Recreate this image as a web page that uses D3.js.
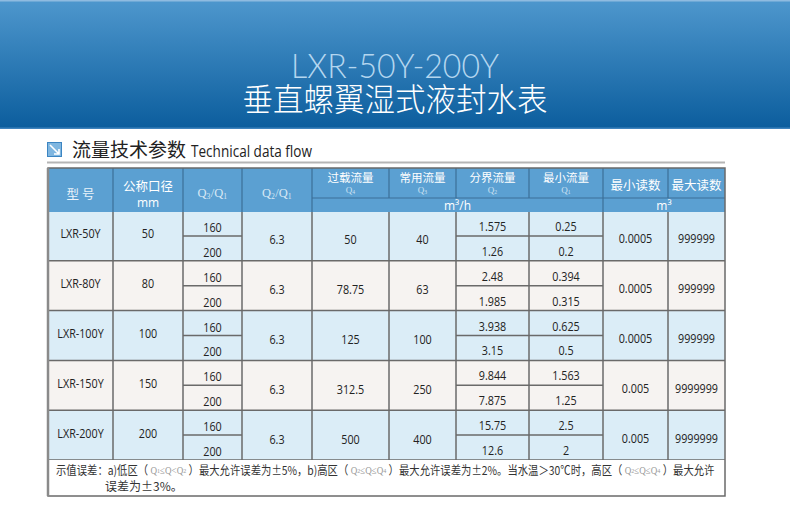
<!DOCTYPE html>
<html>
<head>
<meta charset="utf-8">
<script src="https://cdn.jsdelivr.net/npm/d3@7"></script>
<style>
  body { margin: 0; background: #fff; }
  svg { display: block; }
</style>
</head>
<body>
<script>
// table values
const models    = ["LXR-50Y", "LXR-80Y", "LXR-100Y", "LXR-150Y", "LXR-200Y"];
const diameters = ["50", "80", "100", "150", "200"];
const ratioQ3Q1 = ["160", "200"];
const ratioQ2Q1 = ["6.3", "6.3", "6.3", "6.3", "6.3"];
const flowQ4    = ["50", "78.75", "125", "312.5", "500"];
const flowQ3    = ["40", "63", "100", "250", "400"];
const flowQ2    = [["1.575", "1.26"], ["2.48", "1.985"], ["3.938", "3.15"], ["9.844", "7.875"], ["15.75", "12.6"]];
const flowQ1    = [["0.25", "0.2"], ["0.394", "0.315"], ["0.625", "0.5"], ["1.563", "1.25"], ["2.5", "2"]];
const minRead   = ["0.0005", "0.0005", "0.0005", "0.005", "0.005"];
const maxRead   = ["999999", "999999", "999999", "9999999", "9999999"];

const W = 790, H = 511;
const colEdges = [48, 113, 183, 242, 312, 389, 456, 529, 603, 668, 725];
const headTop = 168, headMid = 198, headBot = 212, bodyBot = 460, noteBot = 496;

const cjk = "'Noto Sans CJK SC', sans-serif";
const lat = "'Open Sans', 'Noto Sans', sans-serif";
const qFont = "'Liberation Serif', 'DejaVu Serif', serif";

const svg = d3.select("body").append("svg").attr("width", W).attr("height", H);
const defs = svg.append("defs");
const grad = defs.append("linearGradient").attr("id", "band").attr("x1", 0).attr("y1", 0).attr("x2", 0).attr("y2", 1);
grad.append("stop").attr("offset", "0%").attr("stop-color", "#4e97cd");
grad.append("stop").attr("offset", "100%").attr("stop-color", "#0b5d9d");

// title band
svg.append("rect").attr("x", 0).attr("y", 0).attr("width", W).attr("height", 129).attr("fill", "url(#band)");
svg.append("rect").attr("x", 0).attr("y", 0).attr("width", W).attr("height", 1.5).attr("fill", "#8fbbe0");
svg.append("rect").attr("x", 0).attr("y", 127.5).attr("width", W).attr("height", 1.5).attr("fill", "#3f83bd");

svg.append("text").attr("x", 395).attr("y", 78).attr("text-anchor", "middle")
  .attr("font-family", "Lato, " + lat).attr("font-weight", 300).attr("font-size", 33)
  .attr("fill", "#b4d6ef").attr("textLength", 208).attr("lengthAdjust", "spacingAndGlyphs")
  .text("LXR-50Y-200Y");
svg.append("text").attr("x", 395).attr("y", 111).attr("text-anchor", "middle")
  .attr("font-family", cjk).attr("font-weight", 300).attr("font-size", 32).attr("fill", "#ffffff")
  .attr("textLength", 305).attr("lengthAdjust", "spacingAndGlyphs")
  .text("垂直螺翼湿式液封水表");

// section heading
svg.append("rect").attr("x", 47.5).attr("y", 142.5).attr("width", 14).attr("height", 14)
  .attr("fill", "#7fb6e0").attr("stroke", "#3c85c2").attr("stroke-width", 1);
svg.append("path").attr("d", "M50,145 L59,154 M59,149 L59,154 L54,154")
  .attr("stroke", "#fff").attr("stroke-width", 1.6).attr("fill", "none");
svg.append("text").attr("x", 72).attr("y", 157).attr("font-family", cjk).attr("font-size", 19)
  .attr("fill", "#222").text("流量技术参数");
svg.append("text").attr("x", 191).attr("y", 157).attr("font-family", lat).attr("font-size", 16)
  .attr("fill", "#222").attr("textLength", 121).attr("lengthAdjust", "spacingAndGlyphs")
  .text("Technical data flow");
svg.append("rect").attr("x", 47).attr("y", 161.5).attr("width", 678).attr("height", 2).attr("fill", "#b5b5b5");

// scales
const y = d3.scaleBand().domain(models).range([headBot - 1, bodyBot]);
const cx = i => (colEdges[i] + colEdges[i + 1]) / 2;
const cxSpan = (a, b) => (colEdges[a] + colEdges[b]) / 2;

// header
const head = svg.append("g");
head.append("rect").attr("x", colEdges[0]).attr("y", headTop)
  .attr("width", colEdges[10] - colEdges[0]).attr("height", headBot - headTop).attr("fill", "#5ba0d2");

function hText(x, yy, str, size, fam, fill) {
  return head.append("text").attr("x", x).attr("y", yy).attr("text-anchor", "middle")
    .attr("dominant-baseline", "central").attr("font-family", fam || cjk)
    .attr("font-size", size).attr("fill", fill || "#ffffff").text(str);
}
function qText(g, x, yy, parts, size, fill) {
  const t = g.append("text").attr("x", x).attr("y", yy).attr("text-anchor", "middle")
    .attr("dominant-baseline", "central").attr("font-family", qFont)
    .attr("font-size", size).attr("fill", fill);
  parts.forEach(p => {
    t.append("tspan").attr("dy", 0).text(p[0]);
    if (p[1]) {
      t.append("tspan").attr("font-size", size * 0.62).attr("dy", size * 0.2).text(p[1]);
      t.append("tspan").attr("font-size", size * 0.3).attr("dy", -size * 0.2).text("\u200a");
    }
  });
  return t;
}

hText(cx(0), 193, "型  号", 12.5, cjk, "#eaf3fa");
hText(cx(1), 185.5, "公称口径", 12.5);
hText(cx(1), 202.5, "mm", 12, lat);
qText(head, cx(2), 193, [["Q", "3"], ["/Q", "1"]], 12.5, "#d7e8f5");
qText(head, cx(3), 193, [["Q", "2"], ["/Q", "1"]], 12.5, "#d7e8f5");
const flowHeads = [["过载流量", "4"], ["常用流量", "3"], ["分界流量", "2"], ["最小流量", "1"]];
flowHeads.forEach((h, i) => {
  hText(cx(4 + i), 177, h[0], 11.5);
  qText(head, cx(4 + i), 190, [["Q", h[1]]], 9, "#cfe3f3");
});
hText(cx(8), 184, "最小读数", 12.5);
hText(cx(9), 184, "最大读数", 12.5);
hText(cxSpan(4, 8), 205.5, "m³/h", 12, lat);
hText(cxSpan(8, 10), 205.5, "m³", 12, lat);

const hStroke = "#3c6f98";
[1, 2, 3, 4].forEach(i => head.append("line").attr("x1", colEdges[i]).attr("x2", colEdges[i])
  .attr("y1", headTop).attr("y2", headBot).attr("stroke", hStroke).attr("stroke-width", 1.2));
[5, 6, 7, 8, 9].forEach(i => head.append("line").attr("x1", colEdges[i]).attr("x2", colEdges[i])
  .attr("y1", headTop).attr("y2", headMid).attr("stroke", hStroke).attr("stroke-width", 1.2));
head.append("line").attr("x1", colEdges[8]).attr("x2", colEdges[8]).attr("y1", headMid).attr("y2", headBot)
  .attr("stroke", hStroke).attr("stroke-width", 1.2);
head.append("line").attr("x1", colEdges[4]).attr("x2", colEdges[10]).attr("y1", headMid).attr("y2", headMid)
  .attr("stroke", hStroke).attr("stroke-width", 1.2);

// body rows
const body = svg.append("g");
const rows = body.selectAll("g.row").data(models).enter().append("g").attr("class", "row");
rows.append("rect").attr("x", colEdges[0]).attr("y", d => Math.max(y(d), headBot))
  .attr("width", colEdges[10] - colEdges[0]).attr("height", d => y(d) + y.bandwidth() - Math.max(y(d), headBot))
  .attr("fill", (d, i) => i % 2 === 0 ? "#dbedf7" : "#f6f3f1");

function cell(x, yy, str) {
  const t = body.append("text").attr("x", x).attr("y", yy).attr("text-anchor", "middle")
    .attr("dominant-baseline", "central").attr("font-family", lat).attr("font-size", 12.5)
    .attr("fill", "#222").text(str);
  // the source face is narrower than Open Sans
  const w = t.node().getComputedTextLength();
  t.attr("textLength", w * 0.86).attr("lengthAdjust", "spacingAndGlyphs");
}

const bStroke = "#6a6a6a";
models.forEach((m, i) => {
  const top = y(m), h = y.bandwidth(), mid = top + h / 2;
  const sub = [top + h / 4, top + h * 3 / 4];
  cell(cx(0), mid - 2, m);
  cell(cx(1), mid - 2, diameters[i]);
  ratioQ3Q1.forEach((v, k) => cell(cx(2), sub[k] + 4, v));
  cell(cx(3), mid + 4, ratioQ2Q1[i]);
  cell(cx(4), mid + 4, flowQ4[i]);
  cell(cx(5), mid + 4, flowQ3[i]);
  flowQ2[i].forEach((v, k) => cell(cx(6), sub[k] + 3, v));
  flowQ1[i].forEach((v, k) => cell(cx(7), sub[k] + 3, v));
  cell(cx(8), mid + 3, minRead[i]);
  cell(cx(9), mid + 3, maxRead[i]);
  // split lines
  body.append("line").attr("x1", colEdges[2]).attr("x2", colEdges[3]).attr("y1", mid).attr("y2", mid)
    .attr("stroke", bStroke).attr("stroke-width", 1.5);
  body.append("line").attr("x1", colEdges[6]).attr("x2", colEdges[8]).attr("y1", mid).attr("y2", mid)
    .attr("stroke", bStroke).attr("stroke-width", 1.5);
  // row bottom
  body.append("line").attr("x1", colEdges[0]).attr("x2", colEdges[10]).attr("y1", top + h).attr("y2", top + h)
    .attr("stroke", bStroke).attr("stroke-width", 1.5);
});
colEdges.slice(1, 10).forEach(x => body.append("line").attr("x1", x).attr("x2", x)
  .attr("y1", headBot).attr("y2", bodyBot).attr("stroke", bStroke).attr("stroke-width", 1.5));

// footnote
const note = svg.append("g");
note.append("rect").attr("x", colEdges[0]).attr("y", bodyBot).attr("width", colEdges[10] - colEdges[0])
  .attr("height", noteBot - bodyBot).attr("fill", "#fff");
const l1 = note.append("text").attr("x", 0).attr("y", 470).attr("dominant-baseline", "central")
  .attr("font-family", cjk).attr("font-size", 12).attr("fill", "#333");
function seg(t, str, q, sub) {
  const s = t.append("tspan").text(str);
  if (q) { s.attr("font-family", qFont).attr("fill", "#999").attr("font-size", 10.5); }
  if (sub) { s.attr("font-size", 7); }
  return s;
}
seg(l1, "示值误差：a)低区（ ");
seg(l1, "Q", true); seg(l1, "1", true, true); seg(l1, "≤Q<Q", true); seg(l1, "2", true, true);
seg(l1, " ）最大允许误差为±5%，b)高区（ ");
seg(l1, "Q", true); seg(l1, "2", true, true); seg(l1, "≤Q≤Q", true); seg(l1, "4", true, true);
seg(l1, " ）最大允许误差为±2%。当水温＞30℃时，高区（ ");
seg(l1, "Q", true); seg(l1, "2", true, true); seg(l1, "≤Q≤Q", true); seg(l1, "4", true, true);
seg(l1, " ）最大允许");
const l1w = l1.node().getComputedTextLength();
l1.attr("transform", "translate(56,0) scale(" + (659 / l1w) + ",1)");
note.append("text").attr("x", 105).attr("y", 485).attr("dominant-baseline", "central")
  .attr("font-family", cjk).attr("font-size", 12).attr("fill", "#333").text("误差为±3%。");

// outer border
svg.append("rect").attr("x", colEdges[0]).attr("y", headTop).attr("width", colEdges[10] - colEdges[0])
  .attr("height", noteBot - headTop).attr("fill", "none").attr("stroke", "#6a6a6a").attr("stroke-width", 1.5);
svg.append("line").attr("x1", colEdges[0]).attr("x2", colEdges[0]).attr("y1", headTop).attr("y2", noteBot)
  .attr("stroke", "#8a8a8a").attr("stroke-width", 2.5);
</script>
</body>
</html>
